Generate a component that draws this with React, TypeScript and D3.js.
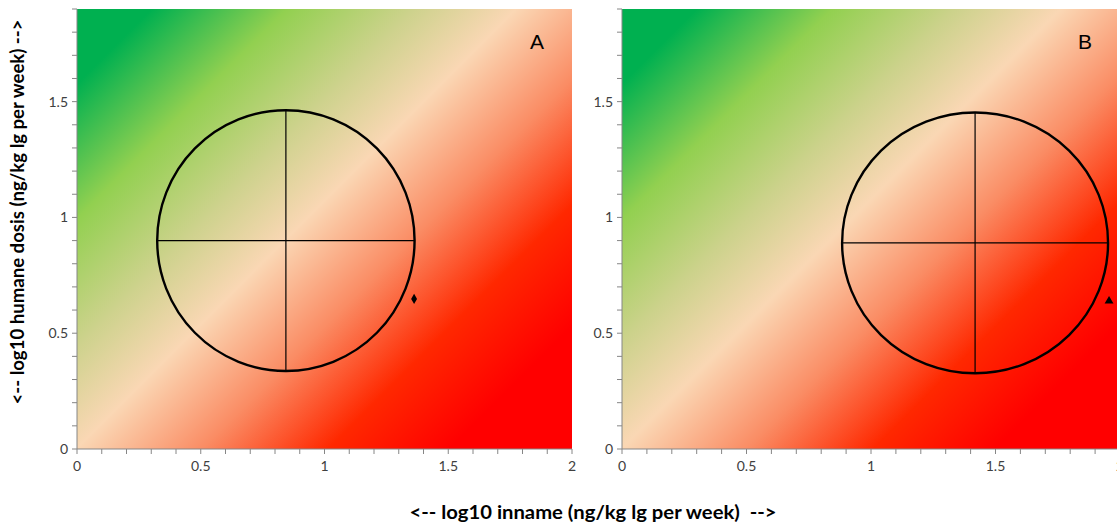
import React from "react";
import * as d3 from "d3";

const panelLabels = ["A", "B"];
const xTickValues = [0, 0.5, 1, 1.5, 2];
const yTickValues = [0, 0.5, 1, 1.5];
const xDomain = [0, 2];
const yDomain = [0, 1.9];
const circleCenterX = [0.844, 1.418];
const circleCenterY = [0.9, 0.89];
const circleRadiusX = [0.52, 0.534];
const circleRadiusY = [0.563, 0.563];
const pointX = [1.362, 1.956];
const pointY = [0.648, 0.639];
const pointShape = ["diamond", "triangle"];
const xTitle = "<-- log10 inname (ng/kg lg per week)  -->";
const yTitle = "<-- log10 humane dosis (ng/kg lg per week) -->";

const gradientStops: [number, string][] = [
  [0, "#00b050"],
  [0.08, "#00b050"],
  [0.225, "#92d050"],
  [0.36, "#cdd28c"],
  [0.47, "#fad7b4"],
  [0.605, "#fa8c64"],
  [0.74, "#ff2800"],
  [0.87, "#ff0000"],
  [1, "#ff0000"],
];

const W = 1117;
const H = 526;
const top = 9;
const bottom = 449;
const panelX: [number, number][] = [
  [77, 572],
  [622, 1120],
];
const font = "Lato, 'Open Sans', sans-serif";

function Panel({ i }: { i: number }) {
  const [x0, x1] = panelX[i];
  const x = d3.scaleLinear().domain(xDomain).range([x0, x1]);
  const y = d3.scaleLinear().domain(yDomain).range([bottom, top]);
  const minorX = d3.range(0, 20.001, 1).map((v) => v / 10);
  const minorY = d3.range(0, 19.001, 1).map((v) => v / 10);
  const L = 467;
  const gid = "grad" + i;
  const cx = x(circleCenterX[i]);
  const cy = y(circleCenterY[i]);
  const rx = x(circleCenterX[i] + circleRadiusX[i]) - cx;
  const ry = cy - y(circleCenterY[i] + circleRadiusY[i]);
  const px = x(pointX[i]);
  const py = y(pointY[i]);
  const sym = d3
    .symbol()
    .type(pointShape[i] === "diamond" ? d3.symbolDiamond : d3.symbolTriangle)
    .size(pointShape[i] === "diamond" ? 30 : 34)();
  return (
    <g>
      <defs>
        <linearGradient
          id={gid}
          gradientUnits="userSpaceOnUse"
          x1={x0}
          y1={top}
          x2={x0 + L}
          y2={top + L}
        >
          {gradientStops.map(([o, c], k) => (
            <stop key={k} offset={o} stopColor={c} />
          ))}
        </linearGradient>
      </defs>
      <rect x={x0} y={top} width={x1 - x0} height={bottom - top} fill={`url(#${gid})`} />
      <line x1={cx - rx} x2={cx + rx} y1={cy} y2={cy} stroke="#000" strokeWidth={1.2} />
      <line x1={cx} x2={cx} y1={cy - ry} y2={cy + ry} stroke="#000" strokeWidth={1.2} />
      <ellipse cx={cx} cy={cy} rx={rx} ry={ry} fill="none" stroke="#000" strokeWidth={2.4} />
      <path d={sym || ""} transform={`translate(${px},${py})`} fill="#000" />
      <text x={x1 - 35} y={49} fontFamily="'Liberation Sans', Arial, sans-serif" fontSize={21} fill="#000" textAnchor="middle">
        {panelLabels[i]}
      </text>
      <line x1={x0} x2={x1} y1={bottom} y2={bottom} stroke="#868686" strokeWidth={1} />
      <line x1={x0} x2={x0} y1={top} y2={bottom} stroke="#868686" strokeWidth={1} />
      {minorX.map((v, k) => (
        <line key={"mx" + k} x1={x(v)} x2={x(v)} y1={bottom} y2={bottom + 5} stroke="#868686" />
      ))}
      {minorY.map((v, k) => (
        <line key={"my" + k} x1={x0 - 5} x2={x0} y1={y(v)} y2={y(v)} stroke="#868686" />
      ))}
      {xTickValues.map((v, k) => (
        <text key={"xt" + k} x={x(v)} y={bottom + 22} textAnchor="middle" fontFamily={font} fontSize={14} fill="#404040">
          {String(v)}
        </text>
      ))}
      {yTickValues.map((v, k) => (
        <text key={"yt" + k} x={x0 - 9} y={y(v) + 5} textAnchor="end" fontFamily={font} fontSize={14} fill="#404040">
          {String(v)}
        </text>
      ))}
    </g>
  );
}

export default function App() {
  return (
    <svg
      width={W}
      height={H}
      style={{ position: "absolute", left: 0, top: 0, background: "#fff" }}
    >
      <rect x={0} y={0} width={W} height={H} fill="#fff" />
      <Panel i={0} />
      <Panel i={1} />
      <text
        x={593}
        y={519}
        textAnchor="middle"
        fontFamily={font}
        fontWeight="bold"
        fontSize={18}
        textLength={367}
        lengthAdjust="spacingAndGlyphs"
        fill="#000"
        style={{ whiteSpace: "pre" }}
      >
        {xTitle}
      </text>
      <text
        transform="translate(24,212) rotate(-90)"
        textAnchor="middle"
        fontFamily={font}
        fontWeight="bold"
        fontSize={18}
        textLength={385}
        lengthAdjust="spacingAndGlyphs"
        fill="#000"
        style={{ whiteSpace: "pre" }}
      >
        {yTitle}
      </text>
    </svg>
  );
}
